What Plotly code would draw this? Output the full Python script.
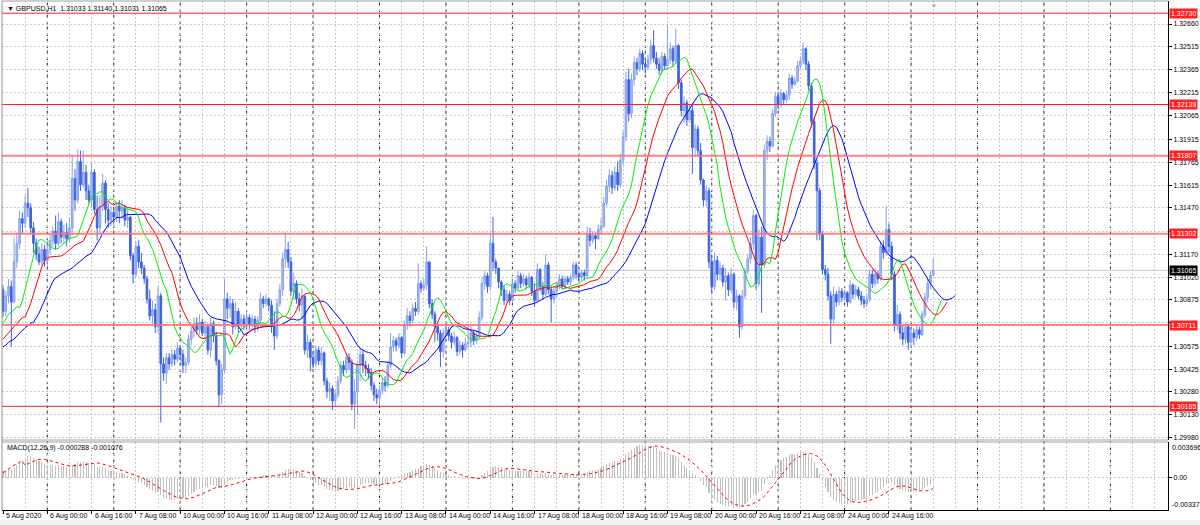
import plotly.graph_objects as go
from plotly.subplots import make_subplots

# ---------------- data ----------------
title_text = "▼ GBPUSD,H1  1.31033 1.31140 1.31031 1.31065"
macd_text = "MACD(12,26,9) -0.000288 -0.001076"

first_open = 1.3094
closes = [
    1.3080, 1.3090, 1.3096, 1.3086, 1.3112, 1.3124, 1.3140, 1.3137, 1.3150, 1.3147, 1.3134, 1.3124,
    1.3117, 1.3112, 1.3120, 1.3113, 1.3120, 1.3126, 1.3132, 1.3124, 1.3138, 1.3128, 1.3131, 1.3127,
    1.3134, 1.3166, 1.3152, 1.3177, 1.3162, 1.3170, 1.3158, 1.3152, 1.3170, 1.3146, 1.3134, 1.3148,
    1.3163, 1.3146, 1.3139, 1.3144, 1.3141, 1.3148, 1.3145, 1.3147, 1.3139, 1.3141, 1.3116, 1.3104,
    1.3122, 1.3112, 1.3108, 1.3101, 1.3088, 1.3077, 1.3081, 1.3070, 1.3090, 1.3046, 1.3040, 1.3050,
    1.3046, 1.3052, 1.3049, 1.3056, 1.3052, 1.3045, 1.3047, 1.3062, 1.3067, 1.3072, 1.3068, 1.3073,
    1.3066, 1.3070, 1.3055, 1.3072, 1.3064, 1.3048, 1.3026, 1.3042, 1.3088, 1.3082, 1.3085, 1.3070,
    1.3080, 1.3071, 1.3075, 1.3072, 1.3076, 1.3071, 1.3075, 1.3070, 1.3074, 1.3088, 1.3085, 1.3088,
    1.3084, 1.3070, 1.3064, 1.3085, 1.3094, 1.3114, 1.3120, 1.3112, 1.3093, 1.3098, 1.3088, 1.3084,
    1.3090, 1.3055, 1.3060, 1.3050, 1.3046, 1.3055, 1.3048, 1.3053, 1.3035, 1.3028, 1.3030, 1.3022,
    1.3026, 1.3035, 1.3045, 1.3042, 1.3050, 1.3047, 1.3020, 1.3028, 1.3045, 1.3052, 1.3045, 1.3043,
    1.3040, 1.3032, 1.3026, 1.3024, 1.3029, 1.3034, 1.3032, 1.3045, 1.3057, 1.3061, 1.3058, 1.3063,
    1.3053, 1.3071, 1.3077, 1.3074, 1.3082, 1.3080, 1.3098, 1.3095, 1.3097, 1.3112, 1.3085, 1.3078,
    1.3070, 1.3066, 1.3054, 1.3066, 1.3068, 1.3064, 1.3060, 1.3063, 1.3054, 1.3058, 1.3055, 1.3059,
    1.3060, 1.3066, 1.3061, 1.3064, 1.3076, 1.3098, 1.3103, 1.3096, 1.3124, 1.3112, 1.3108, 1.3099,
    1.3094, 1.3087, 1.3091, 1.3087, 1.3098, 1.3095, 1.3103, 1.3098, 1.3101, 1.3097, 1.3102, 1.3093,
    1.3087, 1.3107, 1.3096, 1.3091, 1.3110, 1.3094, 1.3088, 1.3093, 1.3097, 1.3101, 1.3096, 1.3101,
    1.3099, 1.3102, 1.3110, 1.3104, 1.3102, 1.3105, 1.3103, 1.3130, 1.3126, 1.3129, 1.3127, 1.3133,
    1.3135, 1.3150, 1.3161, 1.3168, 1.3160, 1.3170, 1.3162, 1.3178, 1.3193, 1.3230, 1.3208, 1.3230,
    1.3241, 1.3237, 1.3247, 1.3240, 1.3238, 1.3243, 1.3252, 1.3244, 1.3240, 1.3236, 1.3245, 1.3239,
    1.3243, 1.3250, 1.3242, 1.3252, 1.3228, 1.3210, 1.3215, 1.3204, 1.3210, 1.3186, 1.3198, 1.3184,
    1.3165, 1.3152, 1.3158, 1.3112, 1.3096, 1.3113, 1.3104, 1.3108, 1.3099, 1.3103, 1.3094, 1.3104,
    1.3086, 1.3090, 1.3070, 1.3090, 1.3106, 1.3114, 1.3124, 1.3142, 1.3098, 1.3128, 1.3110, 1.3184,
    1.3190, 1.3187, 1.3208, 1.3219, 1.3214, 1.3221, 1.3217, 1.3220, 1.3231, 1.3227, 1.3229, 1.3239,
    1.3242, 1.3250, 1.3240, 1.3226, 1.3203, 1.3176, 1.3158, 1.3130, 1.3107, 1.3104, 1.3090, 1.3075,
    1.3091, 1.3086, 1.3093, 1.3089, 1.3092, 1.3086, 1.3097, 1.3091, 1.3094, 1.3090, 1.3087, 1.3085,
    1.3088, 1.3104, 1.3098, 1.3104, 1.3101, 1.3122, 1.3118, 1.3133, 1.3122, 1.3104, 1.3071, 1.3078,
    1.3066, 1.3062, 1.3070, 1.3060, 1.3066, 1.3063, 1.3068, 1.3065, 1.3078, 1.3089, 1.3098, 1.31033,
    1.31065,
]
highs = [
    1.3097, 1.3093, 1.3101, 1.3100, 1.3128, 1.3131, 1.3145, 1.3144, 1.3155, 1.3160, 1.3150, 1.3138,
    1.3127, 1.3122, 1.3124, 1.3123, 1.3126, 1.3130, 1.3135, 1.3142, 1.3144, 1.3140, 1.3136, 1.3137,
    1.3140, 1.3181, 1.3172, 1.3185, 1.3184, 1.3184, 1.3175, 1.3162, 1.3176, 1.3172, 1.3155, 1.3155,
    1.3169, 1.3165, 1.3150, 1.3148, 1.3147, 1.3151, 1.3152, 1.3152, 1.3149, 1.3146, 1.3142, 1.3118,
    1.3125, 1.3126, 1.3118, 1.3110, 1.3103, 1.3094, 1.3087, 1.3085, 1.3096, 1.3092, 1.3050, 1.3053,
    1.3053, 1.3056, 1.3055, 1.3060, 1.3058, 1.3055, 1.3050, 1.3065, 1.3070, 1.3076, 1.3076, 1.3078,
    1.3075, 1.3074, 1.3072, 1.3076, 1.3074, 1.3067, 1.3049, 1.3046, 1.3101, 1.3092, 1.3090, 1.3088,
    1.3086, 1.3082, 1.3078, 1.3078, 1.3080, 1.3078, 1.3078, 1.3077, 1.3077, 1.3092, 1.3090, 1.3091,
    1.3089, 1.3087, 1.3080, 1.3088, 1.3098, 1.3118, 1.3131, 1.3125, 1.3115, 1.3105, 1.3100, 1.3092,
    1.3095, 1.3088, 1.3065, 1.3062, 1.3053, 1.3058, 1.3057, 1.3057, 1.3054, 1.3037, 1.3034, 1.3032,
    1.3029, 1.3038, 1.3048, 1.3048, 1.3053, 1.3053, 1.3049, 1.3036, 1.3048, 1.3057, 1.3055, 1.3048,
    1.3046, 1.3043, 1.3034, 1.3030, 1.3032, 1.3037, 1.3038, 1.3048, 1.3066, 1.3064, 1.3063, 1.3066,
    1.3064, 1.3074, 1.3082, 1.3080, 1.3085, 1.3086, 1.3111, 1.3100, 1.3101, 1.3122, 1.3112, 1.3088,
    1.3080, 1.3072, 1.3068, 1.3069, 1.3072, 1.3070, 1.3066, 1.3067, 1.3064, 1.3061, 1.3060, 1.3063,
    1.3072, 1.3071, 1.3068, 1.3068, 1.3080, 1.3102, 1.3106, 1.3105, 1.3130, 1.3141, 1.3114, 1.3108,
    1.3100, 1.3097, 1.3094, 1.3093, 1.3101, 1.3100, 1.3106, 1.3105, 1.3104, 1.3103, 1.3105, 1.3103,
    1.3098, 1.3111, 1.3108, 1.3099, 1.3117, 1.3112, 1.3096, 1.3096, 1.3099, 1.3104, 1.3103, 1.3103,
    1.3103, 1.3104, 1.3112, 1.3112, 1.3106, 1.3107, 1.3107, 1.3135, 1.3134, 1.3132, 1.3131, 1.3136,
    1.3140, 1.3154, 1.3165, 1.3172, 1.3171, 1.3174, 1.3177, 1.3182, 1.3197, 1.3235, 1.3237, 1.3234,
    1.3245, 1.3244, 1.3250, 1.3249, 1.3244, 1.3246, 1.3256, 1.3262, 1.3248, 1.3244, 1.3248, 1.3247,
    1.3265, 1.3254, 1.3252, 1.3263, 1.3253, 1.3230, 1.3219, 1.3217, 1.3213, 1.3215, 1.3201, 1.3200,
    1.3189, 1.3166, 1.3161, 1.3160, 1.3116, 1.3118, 1.3116, 1.3112, 1.3110, 1.3108, 1.3105, 1.3108,
    1.3105, 1.3094, 1.3091, 1.3094, 1.3108, 1.3117, 1.3128, 1.3146, 1.3143, 1.3133, 1.3135, 1.3188,
    1.3194, 1.3193, 1.3211, 1.3222, 1.3222, 1.3224, 1.3222, 1.3223, 1.3234, 1.3233, 1.3232, 1.3242,
    1.3245, 1.3254, 1.3251, 1.3242, 1.3228, 1.3205, 1.3178, 1.3160, 1.3132, 1.3110, 1.3108, 1.3093,
    1.3096, 1.3093, 1.3096, 1.3095, 1.3094, 1.3093, 1.3100, 1.3098, 1.3097, 1.3096, 1.3093, 1.3090,
    1.3091, 1.3107, 1.3107, 1.3108, 1.3106, 1.3125, 1.3126, 1.3148, 1.3137, 1.3125, 1.3106, 1.3084,
    1.3080, 1.3071, 1.3073, 1.3072, 1.3070, 1.3069, 1.3071, 1.3070, 1.3080, 1.3092, 1.3101, 1.3106,
    1.31140,
]
lows = [
    1.3076, 1.3077, 1.3085, 1.3057, 1.3085, 1.3108, 1.3120, 1.3130, 1.3134, 1.3141, 1.3130, 1.3118,
    1.3113, 1.3110, 1.3110, 1.3109, 1.3109, 1.3117, 1.3122, 1.3120, 1.3122, 1.3124, 1.3124, 1.3122,
    1.3125, 1.3129, 1.3145, 1.3150, 1.3158, 1.3160, 1.3152, 1.3150, 1.3148, 1.3143, 1.3126, 1.3130,
    1.3145, 1.3137, 1.3134, 1.3135, 1.3136, 1.3138, 1.3137, 1.3140, 1.3135, 1.3134, 1.3113, 1.3098,
    1.3102, 1.3108, 1.3104, 1.3098, 1.3085, 1.3074, 1.3072, 1.3066, 1.3066, 1.3008, 1.3035, 1.3033,
    1.3042, 1.3044, 1.3045, 1.3047, 1.3048, 1.3040, 1.3040, 1.3045, 1.3058, 1.3063, 1.3065, 1.3065,
    1.3064, 1.3062, 1.3052, 1.3050, 1.3060, 1.3045, 1.3018, 1.3020, 1.3040, 1.3075, 1.3076, 1.3065,
    1.3068, 1.3066, 1.3068, 1.3068, 1.3069, 1.3068, 1.3068, 1.3066, 1.3067, 1.3072, 1.3082, 1.3083,
    1.3080, 1.3066, 1.3055, 1.3062, 1.3083, 1.3090, 1.3108, 1.3108, 1.3090, 1.3088, 1.3085, 1.3080,
    1.3075, 1.3052, 1.3050, 1.3041, 1.3043, 1.3044, 1.3045, 1.3045, 1.3032, 1.3024, 1.3022, 1.3016,
    1.3018, 1.3024, 1.3033, 1.3038, 1.3040, 1.3042, 1.3016, 1.3004, 1.3013, 1.3035, 1.3040, 1.3038,
    1.3036, 1.3029, 1.3022, 1.3020, 1.3018, 1.3026, 1.3028, 1.3030, 1.3043, 1.3054, 1.3054, 1.3056,
    1.3050, 1.3052, 1.3068, 1.3070, 1.3072, 1.3077, 1.3078, 1.3092, 1.3093, 1.3094, 1.3082, 1.3075,
    1.3060, 1.3061, 1.3044, 1.3050, 1.3062, 1.3061, 1.3056, 1.3058, 1.3051, 1.3052, 1.3050, 1.3054,
    1.3056, 1.3057, 1.3058, 1.3059, 1.3062, 1.3074, 1.3094, 1.3092, 1.3094, 1.3106, 1.3104, 1.3095,
    1.3090, 1.3084, 1.3085, 1.3084, 1.3086, 1.3092, 1.3094, 1.3095, 1.3096, 1.3094, 1.3095, 1.3090,
    1.3083, 1.3086, 1.3093, 1.3088, 1.3090, 1.3091, 1.3073, 1.3085, 1.3089, 1.3094, 1.3094, 1.3095,
    1.3097, 1.3097, 1.3100, 1.3101, 1.3100, 1.3100, 1.3100, 1.3102, 1.3122, 1.3124, 1.3120, 1.3126,
    1.3130, 1.3134, 1.3148, 1.3157, 1.3156, 1.3158, 1.3158, 1.3160, 1.3175, 1.3190, 1.3203, 1.3205,
    1.3226, 1.3233, 1.3235, 1.3236, 1.3234, 1.3236, 1.3240, 1.3241, 1.3237, 1.3233, 1.3234, 1.3236,
    1.3237, 1.3240, 1.3238, 1.3240, 1.3224, 1.3206, 1.3202, 1.3200, 1.3202, 1.3169, 1.3180, 1.3180,
    1.3162, 1.3148, 1.3148, 1.3108, 1.3092, 1.3094, 1.3100, 1.3100, 1.3096, 1.3087, 1.3090, 1.3092,
    1.3082, 1.3081, 1.3063, 1.3068, 1.3088, 1.3104, 1.3111, 1.3120, 1.3094, 1.3096, 1.3079, 1.3108,
    1.3178, 1.3183, 1.3186, 1.3206, 1.3211, 1.3212, 1.3214, 1.3215, 1.3217, 1.3224, 1.3226, 1.3228,
    1.3237, 1.3240, 1.3236, 1.3223, 1.3199, 1.3172, 1.3126, 1.3126, 1.3104, 1.3100, 1.3087, 1.3059,
    1.3072, 1.3083, 1.3084, 1.3086, 1.3087, 1.3083, 1.3085, 1.3088, 1.3089, 1.3088, 1.3084, 1.3082,
    1.3083, 1.3086, 1.3095, 1.3096, 1.3098, 1.3100, 1.3114, 1.3116, 1.3118, 1.3100, 1.3067, 1.3068,
    1.3062, 1.3058, 1.3059, 1.3055, 1.3057, 1.3058, 1.3061, 1.3062, 1.3064, 1.3076, 1.3086, 1.3094,
    1.31031,
]

time_labels = [
    "5 Aug 2020", "6 Aug 00:00", "6 Aug 16:00", "7 Aug 08:00", "10 Aug 00:00", "10 Aug 16:00",
    "11 Aug 08:00", "12 Aug 00:00", "12 Aug 16:00", "13 Aug 08:00", "14 Aug 00:00", "14 Aug 16:00",
    "17 Aug 08:00", "18 Aug 00:00", "18 Aug 16:00", "19 Aug 08:00", "20 Aug 00:00", "20 Aug 16:00",
    "21 Aug 08:00", "24 Aug 00:00", "24 Aug 16:00",
]
price_ticks = [1.29980, 1.30130, 1.30280, 1.30425, 1.30575, 1.30725, 1.30875, 1.31020, 1.31170,
               1.31320, 1.31470, 1.31615, 1.31765, 1.31915, 1.32065, 1.32215, 1.32365, 1.32515, 1.32660]
price_tick_hidden = [1.30725, 1.31320]   # covered by level boxes in the picture
level_prices = [1.32730, 1.32139, 1.31807, 1.31302, 1.30711, 1.30185]
level_soft = [False, False, True, True, True, False]
last_price = 1.31065
macd_max = 0.003696
macd_min = -0.00337

# indicator warm-up values read at the left edge of the picture
jaw_head = [1.3057, 1.3058, 1.3060, 1.3061, 1.3062, 1.3064, 1.3066, 1.3068]
teeth_head = [1.3062, 1.3064, 1.3066, 1.3068, 1.3070]
lips_head = [1.3072, 1.3075, 1.3078]
ema_fast_seed = 1.3068
ema_slow_seed = 1.3062
signal_head = [0.0005, 0.0007, 0.0009, 0.0011, 0.0013, 0.0014, 0.0016, 0.0017]

# ---------------- derived series ----------------
N = len(closes)
bars = list(range(N))
opens = [first_open] + closes[:-1]
highs = [max(h, o, c) for h, o, c in zip(highs, opens, closes)]
lows = [min(l, o, c) for l, o, c in zip(lows, opens, closes)]
medians = [(h + l) / 2 for h, l in zip(highs, lows)]


def smma(src, n, seed):
    out, prev = [], seed
    for v in src:
        prev = (prev * (n - 1) + v) / n
        out.append(prev)
    return out


def alligator(head, n):
    shift = len(head)
    vals = smma(medians, n, head[-1])
    return list(range(shift)) + [i + shift for i in range(N)], head + vals


def ema(src, n, seed):
    k = 2 / (n + 1)
    out, prev = [], seed
    for v in src:
        prev = prev + k * (v - prev)
        out.append(prev)
    return out


fast = ema(closes, 12, ema_fast_seed)
slow = ema(closes, 26, ema_slow_seed)
macd = [f - s for f, s in zip(fast, slow)]
signal = [signal_head[i] if i < 8 else sum(macd[i - 8:i + 1]) / 9 for i in range(N)]

# ---------------- figure ----------------
FONT = "Liberation Sans Narrow, Liberation Sans, Arial, sans-serif"
GRID = "#c8c8c8"
fig = make_subplots(rows=2, cols=1, shared_xaxes=True, vertical_spacing=0.0)

fig.add_trace(go.Candlestick(
    x=bars, open=opens, high=highs, low=lows, close=closes,
    increasing=dict(line=dict(color="#86a0ea", width=1), fillcolor="#aebff3"),
    decreasing=dict(line=dict(color="#3e63dd", width=1), fillcolor="#3e63dd"),
    whiskerwidth=0, showlegend=False, hoverinfo="skip"), row=1, col=1)

for head, n, color in [(jaw_head, 13, "#0000ff"), (teeth_head, 8, "#ff0000"), (lips_head, 5, "#00ee00")]:
    xs, ys = alligator(head, n)
    fig.add_trace(go.Scatter(x=xs, y=ys, mode="lines", line=dict(color=color, width=1),
                             showlegend=False, hoverinfo="skip"), row=1, col=1)

fig.add_trace(go.Bar(x=bars, y=macd, width=0.4, marker=dict(color="#c0c0c0", line=dict(width=0)),
                     showlegend=False, hoverinfo="skip"), row=2, col=1)
fig.add_trace(go.Scatter(x=bars, y=signal, mode="lines", line=dict(color="#ff0000", width=1, dash="dot"),
                         showlegend=False, hoverinfo="skip"), row=2, col=1)

label_bars = list(range(0, 16 * len(time_labels), 16))
x_end = 420.8
minor_bars = [b for b in range(8, int(x_end) + 1, 8) if b not in label_bars]
day_starts = list(range(16, int(x_end) + 1, 24))

xcommon = dict(range=[-0.36, x_end], tickmode="array", tickvals=label_bars, showticklabels=False,
               showgrid=True, gridcolor=GRID, griddash="2px,2px", gridwidth=1, zeroline=False,
               rangeslider=dict(visible=False), fixedrange=True,
               minor=dict(tickmode="array", tickvals=minor_bars, showgrid=True, gridcolor=GRID,
                          griddash="2px,2px", gridwidth=1, ticks=""))
fig.update_layout(xaxis=dict(**xcommon, ticks=""),
                  xaxis2=dict(**xcommon, ticks="outside", ticklen=3, tickcolor="#000",
                              showline=True, linecolor="#000", linewidth=1))

P_BOTTOM = 70 / 509
M_TOP = 68 / 509
fig.update_layout(
    yaxis=dict(domain=[P_BOTTOM, 1], side="right", range=[1.29967, 1.32809], tickmode="array",
               tickvals=price_ticks,
               ticktext=["" if v in price_tick_hidden else f"{v:.5f}" for v in price_ticks],
               ticks="outside", ticklen=3, tickcolor="#000",
               tickfont=dict(family=FONT, size=7, color="#000"),
               showgrid=True, gridcolor=GRID, griddash="2px,2px", showline=True, linecolor="#000",
               zeroline=False, fixedrange=True),
    yaxis2=dict(domain=[0, M_TOP], side="right", range=[macd_min, macd_max], tickmode="array",
                tickvals=[0], ticktext=["0.00"], ticks="outside", ticklen=3, tickcolor="#000",
                tickfont=dict(family=FONT, size=7, color="#000"),
                showgrid=True, gridcolor=GRID, griddash="2px,2px", showline=True, linecolor="#000",
                zeroline=False, fixedrange=True),
    width=1200, height=525, margin=dict(l=2, r=28, t=1, b=15),
    paper_bgcolor="#ffffff", plot_bgcolor="#ffffff", bargap=0, boxgap=0.15, showlegend=False,
    font=dict(family=FONT, size=7, color="#000"), hovermode=False,
)

shapes = []
for b in day_starts:
    shapes.append(dict(type="line", xref="x", yref="paper", x0=b, x1=b, y0=0, y1=1,
                       line=dict(color="#202020", width=1, dash="3px,3px"), layer="below"))
shapes.append(dict(type="line", xref="paper", yref="y", x0=0, x1=1, y0=last_price, y1=last_price,
                   line=dict(color="#c8c8c8", width=1), layer="below"))
for p, soft in zip(level_prices, level_soft):
    shapes.append(dict(type="line", xref="paper", yref="y", x0=0, x1=1, y0=p, y1=p,
                       line=dict(color="rgba(255,110,110,0.85)" if soft else "#ff2020",
                                 width=2 if soft else 1), layer="above"))
# panel frames
shapes += [
    dict(type="line", xref="paper", yref="paper", x0=0, x1=1, y0=P_BOTTOM, y1=P_BOTTOM,
         line=dict(color="#a0a0a0", width=1)),
    dict(type="line", xref="paper", yref="paper", x0=0, x1=1, y0=M_TOP, y1=M_TOP,
         line=dict(color="#a0a0a0", width=1)),
    dict(type="line", xref="paper", yref="paper", x0=0, x1=0, y0=0, y1=1,
         line=dict(color="#909090", width=1)),
    dict(type="line", xref="paper", yref="paper", x0=0, x1=1, y0=1, y1=1,
         line=dict(color="#a0a0a0", width=1)),
    dict(type="rect", xref="paper", yref="paper", x0=-0.01, x1=1.03, y0=-10 / 509, y1=-16 / 509,
         line=dict(width=0), fillcolor="#f0f0f0"),
]
fig.update_layout(shapes=shapes)

ann = []
for b, t in zip(label_bars, time_labels):
    ann.append(dict(x=b, xref="x2", y=-6 / 509, yref="paper", text=t, showarrow=False,
                    xanchor="left", yanchor="middle", xshift=1,
                    font=dict(family=FONT, size=7, color="#000")))
for p in level_prices:
    ann.append(dict(x=1, xref="paper", y=p, yref="y", text=f"{p:.5f}", showarrow=False,
                    xanchor="left", yanchor="middle", xshift=1, bgcolor="#ff2020", borderpad=1,
                    width=25, align="left", font=dict(family=FONT, size=7, color="#ffffff")))
ann.append(dict(x=1, xref="paper", y=last_price, yref="y", text=f"{last_price:.5f}", showarrow=False,
                xanchor="left", yanchor="middle", xshift=1, bgcolor="#000000", borderpad=1,
                width=25, align="left", font=dict(family=FONT, size=7, color="#ffffff")))
ann.append(dict(x=1, xref="paper", y=macd_max, yref="y2", text=f"{macd_max:.6f}", showarrow=False,
                xanchor="left", yanchor="top", xshift=2, font=dict(family=FONT, size=7, color="#000")))
ann.append(dict(x=1, xref="paper", y=macd_min, yref="y2", text=f"{macd_min:.5f}", showarrow=False,
                xanchor="left", yanchor="bottom", xshift=2, font=dict(family=FONT, size=7, color="#000")))
ann.append(dict(x=3 / 1170, xref="paper", y=1 - 7 / 509, yref="paper", text=title_text, showarrow=False,
                xanchor="left", yanchor="middle", font=dict(family=FONT, size=7, color="#000")))
ann.append(dict(x=3 / 1170, xref="paper", y=M_TOP - 6 / 509, yref="paper", text=macd_text, showarrow=False,
                xanchor="left", yanchor="middle", font=dict(family=FONT, size=7, color="#000")))
ann.append(dict(x=935 / 1170, xref="paper", y=1, yref="paper", text="▼", showarrow=False,
                xanchor="center", yanchor="top", font=dict(family=FONT, size=6, color="#a0a0a0")))
fig.update_layout(annotations=ann)

fig.write_html("out.html", config={"displayModeBar": False, "staticPlot": True},
               post_script="document.body.style.margin='0px';document.body.style.overflow='hidden';")
